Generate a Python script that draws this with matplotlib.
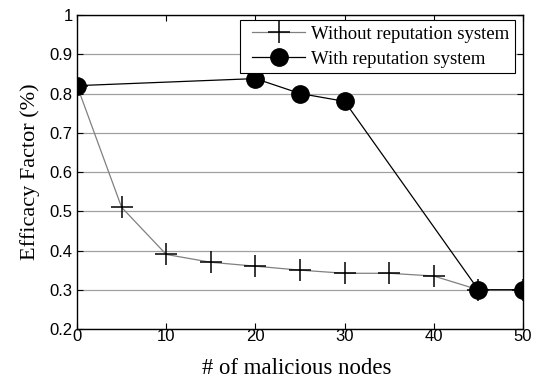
import matplotlib
matplotlib.use("Agg")
import matplotlib.pyplot as plt
from matplotlib.legend_handler import HandlerLine2D

x_without = [0, 5, 10, 15, 20, 25, 30, 35, 40, 45, 50]
y_without = [0.82, 0.51, 0.39, 0.37, 0.36, 0.35, 0.342, 0.342, 0.335, 0.30, 0.30]
x_with = [0, 20, 25, 30, 45, 50]
y_with = [0.82, 0.838, 0.80, 0.78, 0.30, 0.30]
xticks = [0, 10, 20, 30, 40, 50]
yticks = [0.2, 0.3, 0.4, 0.5, 0.6, 0.7, 0.8, 0.9, 1.0]
ytick_labels = ["0.2", "0.3", "0.4", "0.5", "0.6", "0.7", "0.8", "0.9", "1"]

fig = plt.figure(figsize=(5.36, 3.79), dpi=100)
ax = fig.add_axes([0.1437, 0.1319, 0.832, 0.8285])

l1, = ax.plot(x_without, y_without, color="#808080", lw=0.9, marker="+", ms=16,
              mec="black", mew=1.1, label="Without reputation system", zorder=3)
l2, = ax.plot(x_with, y_with, color="black", lw=0.9, marker="o", ms=12.5,
              mfc="black", mec="black", label="With reputation system", zorder=4)

ax.set_xlim(0, 50)
ax.set_ylim(0.2, 1.0)
ax.set_xticks(xticks)
ax.set_yticks(yticks)
ax.set_yticklabels(ytick_labels)
ax.yaxis.grid(True, color="#a0a0a0", lw=0.9)
ax.set_axisbelow(True)
ax.tick_params(direction="in", top=True, right=True, length=4, width=0.8,
               labelsize=12)
ax.tick_params(axis="x", pad=0)
ax.tick_params(axis="y", pad=3)
for lab in ax.get_xticklabels() + ax.get_yticklabels():
    lab.set_fontfamily("Liberation Sans")
for s in ax.spines.values():
    s.set_linewidth(1.0)

ax.set_xlabel("# of malicious nodes", fontfamily="Liberation Serif", fontsize=16.4)
ax.xaxis.set_label_coords(0.493, -0.092)
ax.set_ylabel("Efficacy Factor (%)", fontfamily="Liberation Serif", fontsize=16, labelpad=7)

hmap = {l1: HandlerLine2D(xpad=0.34), l2: HandlerLine2D(xpad=0.34)}
leg = ax.legend(handler_map=hmap, loc="upper right", bbox_to_anchor=(0.982, 0.984),
                prop={"family": "Liberation Serif", "size": 13.5},
                fancybox=False, edgecolor="black", framealpha=1, handlelength=3.17,
                borderpad=0.3, labelspacing=0.41, borderaxespad=0.0, handletextpad=0.32)
leg.get_frame().set_linewidth(0.8)
leg.set_zorder(5)

fig.savefig("out.png", dpi=100)
